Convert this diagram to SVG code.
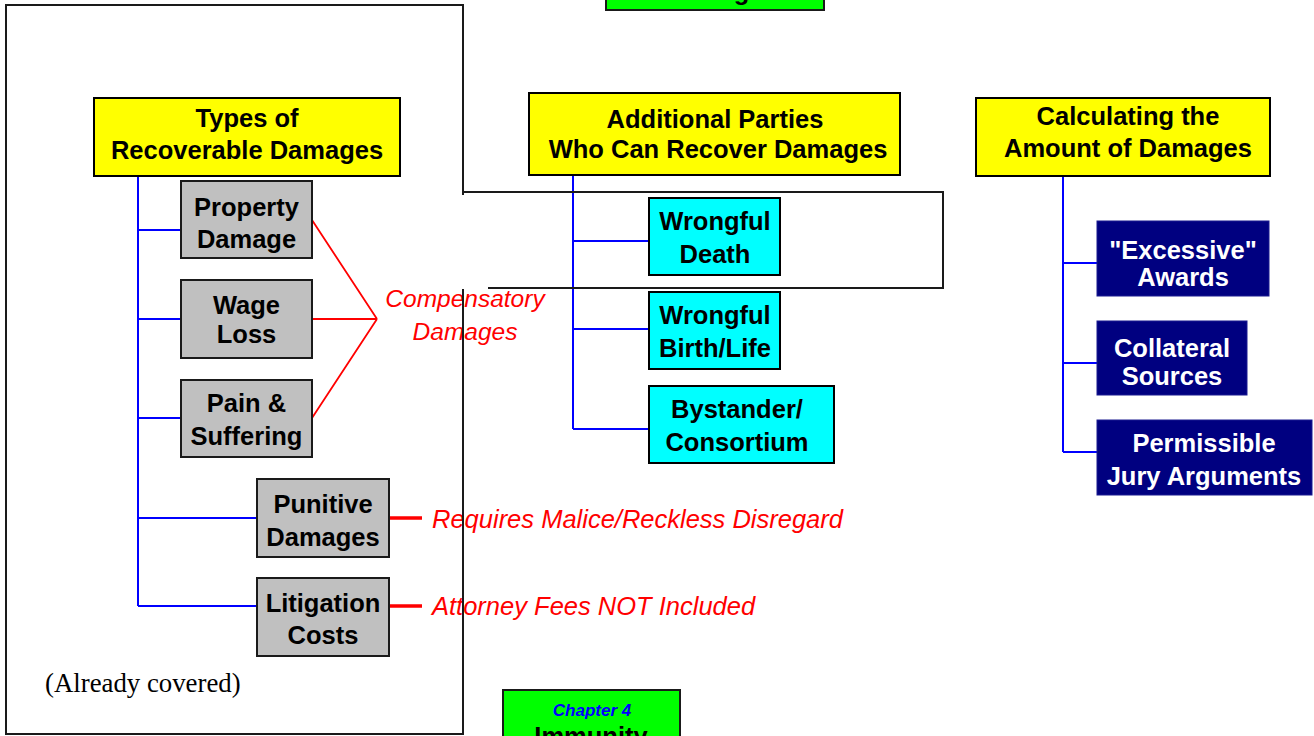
<svg xmlns="http://www.w3.org/2000/svg" width="1314" height="736" viewBox="0 0 1314 736">
<style>
  .t{font-family:"Liberation Sans",Arial,sans-serif;font-weight:bold;font-size:25.5px;text-anchor:middle;fill:#000}
  .w{fill:#fff}
  .yel{fill:#ffff00;stroke:#000;stroke-width:2}
  .gry{fill:#c0c0c0;stroke:#1a1a1a;stroke-width:2}
  .cyn{fill:#00ffff;stroke:#000;stroke-width:2}
  .nav{fill:#000080;stroke:#1a1a90;stroke-width:1}
  .grn{fill:#00ff00;stroke:#1a1a1a;stroke-width:2}
  .blue{fill:none;stroke:#0000ff;stroke-width:2}
  .red{fill:none;stroke:#ff0000;stroke-width:1.8}
  .redb{fill:none;stroke:#ff0000;stroke-width:3.5}
  .note{font-family:"Liberation Sans",Arial,sans-serif;font-style:italic;fill:#ff0000}
  .frame{fill:none;stroke:#1a1a1a;stroke-width:2}
</style>

<g id="top-chapter">
  <rect class="grn" x="606" y="-60" width="218" height="70"/>
  <text class="t" x="721" y="0">Damages</text>
</g>

<g id="connectors">
  <path class="blue" d="M138,176 V606 M138,230 H181 M138,319 H181 M138,418 H181 M138,518 H257 M138,606 H257"/>
  <path class="blue" d="M573,175 V429 M573,241 H649 M573,329 H649 M573,429 H649"/>
  <path class="blue" d="M1063,176 V452 M1063,263 H1097 M1063,363 H1097 M1063,452 H1097"/>
  <path class="red" d="M312,220 L377,319 M312,319 H377 M312,418 L377,319"/>
  <path class="redb" d="M389,518 H422 M389,606 H422"/>
</g>

<g id="types">
  <rect class="yel" x="94" y="98" width="306" height="78"/>
  <text class="t" x="247" y="127">Types of</text>
  <text class="t" x="247" y="159">Recoverable Damages</text>
</g>
<g id="property">
  <rect class="gry" x="181" y="181" width="131" height="77"/>
  <text class="t" x="246.5" y="216">Property</text>
  <text class="t" x="246.5" y="248">Damage</text>
</g>
<g id="wage">
  <rect class="gry" x="181" y="280" width="131" height="78"/>
  <text class="t" x="246.5" y="314">Wage</text>
  <text class="t" x="246.5" y="343">Loss</text>
</g>
<g id="pain">
  <rect class="gry" x="181" y="380" width="131" height="77"/>
  <text class="t" x="246.5" y="412">Pain &amp;</text>
  <text class="t" x="246.5" y="445">Suffering</text>
</g>
<g id="punitive">
  <rect class="gry" x="257" y="479" width="132" height="78"/>
  <text class="t" x="323" y="513">Punitive</text>
  <text class="t" x="323" y="546">Damages</text>
</g>
<g id="litigation">
  <rect class="gry" x="257" y="578" width="132" height="78"/>
  <text class="t" x="323" y="612">Litigation</text>
  <text class="t" x="323" y="644">Costs</text>
</g>

<g id="compensatory-label">
  <text class="note" x="465" y="307" font-size="24.5" text-anchor="middle">Compensatory</text>
  <text class="note" x="465" y="340" font-size="24.5" text-anchor="middle">Damages</text>
</g>
<g id="punitive-note">
  <text class="note" x="432" y="528" font-size="25.5">Requires Malice/Reckless Disregard</text>
</g>
<g id="litigation-note">
  <text class="note" x="432" y="615" font-size="25.5">Attorney Fees NOT Included</text>
</g>
<g id="already-covered">
  <text x="45" y="692" font-family="'Liberation Serif','Times New Roman',serif" font-size="26.8" fill="#000">(Already covered)</text>
</g>

<g id="additional">
  <rect class="yel" x="529" y="93" width="371" height="82"/>
  <text class="t" x="715" y="128">Additional Parties</text>
  <text class="t" x="718" y="158">Who Can Recover Damages</text>
</g>
<g id="wrongful-death">
  <rect class="cyn" x="649" y="198" width="131" height="77"/>
  <text class="t" x="715" y="230">Wrongful</text>
  <text class="t" x="715" y="263">Death</text>
</g>
<g id="wrongful-birth">
  <rect class="cyn" x="649" y="292" width="131" height="77"/>
  <text class="t" x="715" y="324">Wrongful</text>
  <text class="t" x="715" y="357">Birth/Life</text>
</g>
<g id="bystander">
  <rect class="cyn" x="649" y="386" width="185" height="77"/>
  <text class="t" x="737" y="418">Bystander/</text>
  <text class="t" x="737" y="451">Consortium</text>
</g>

<g id="calculating">
  <rect class="yel" x="976" y="98" width="294" height="78"/>
  <text class="t" x="1128" y="125">Calculating the</text>
  <text class="t" x="1128" y="157">Amount of Damages</text>
</g>
<g id="excessive">
  <rect class="nav" x="1097" y="221" width="172" height="75"/>
  <text class="t w" x="1183" y="259">"Excessive"</text>
  <text class="t w" x="1183" y="286">Awards</text>
</g>
<g id="collateral">
  <rect class="nav" x="1097" y="321" width="150" height="74"/>
  <text class="t w" x="1172" y="357">Collateral</text>
  <text class="t w" x="1172" y="385">Sources</text>
</g>
<g id="permissible">
  <rect class="nav" x="1097" y="420" width="215" height="75"/>
  <text class="t w" x="1204" y="452">Permissible</text>
  <text class="t w" x="1204" y="485">Jury Arguments</text>
</g>

<g id="immunity-chapter">
  <rect class="grn" x="503" y="690" width="177" height="80"/>
  <text x="592" y="716" font-family="'Liberation Sans',Arial,sans-serif" font-weight="bold" font-style="italic" font-size="17" fill="#0000ff" text-anchor="middle">Chapter 4</text>
  <text class="t" x="591" y="745">Immunity</text>
</g>

<g id="frames">
  <path class="frame" d="M463,195 V5 H6 V734 H463 V289"/>
  <path class="frame" d="M463,192 H943 V288 H488"/>
</g>
</svg>
